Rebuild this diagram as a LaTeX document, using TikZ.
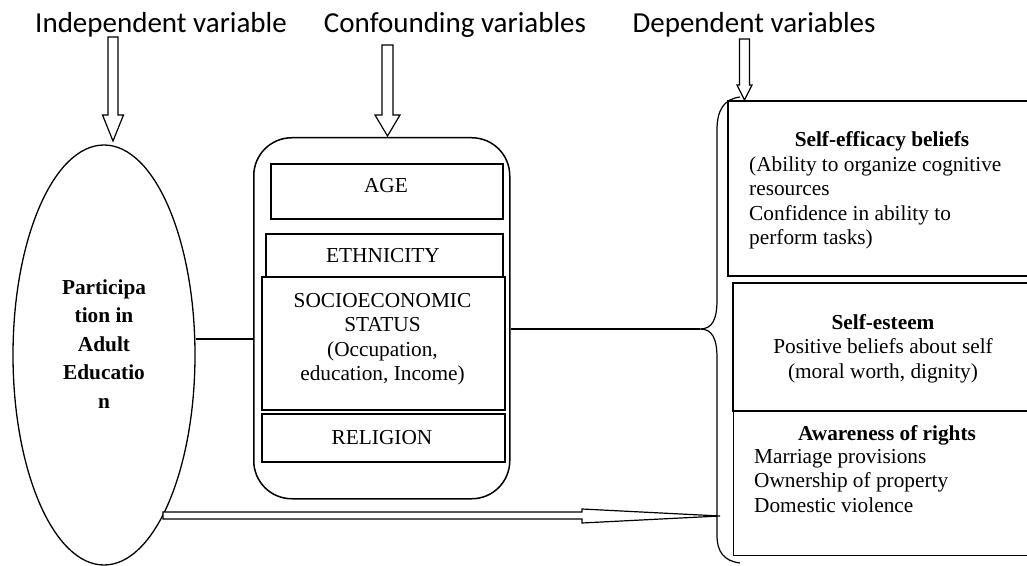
\documentclass[tikz,border=0pt]{standalone}
\usepackage{fontspec}
\setmainfont{Liberation Serif}
\newfontfamily\titlefont{Carlito}
\usetikzlibrary{shapes.geometric,calc}
\begin{document}
\begin{tikzpicture}[x=1bp,y=-1bp,
  ttl/.style={font=\titlefont\fontsize{29bp}{32bp}\selectfont, anchor=base, inner sep=0pt},
  lbl/.style={font=\fontsize{21.3bp}{24.5bp}\selectfont, anchor=base, inner sep=0pt},
  blbl/.style={font=\bfseries\fontsize{21.3bp}{24.5bp}\selectfont, anchor=base, inner sep=0pt},
  mlbl/.style={font=\fontsize{21.3bp}{24.5bp}\selectfont, anchor=north, inner sep=0pt, align=center},
  llbl/.style={font=\fontsize{21.3bp}{24.5bp}\selectfont, anchor=north west, inner sep=0pt, align=left},
  ibox/.style={draw, line width=2bp, inner sep=0pt, anchor=north west},
  hollow/.style={draw, line width=1.2bp, fill=white, line join=miter},
  conn/.style={draw, line width=1.3bp}
]
\useasboundingbox (0,0) rectangle (1027,566);
\clip (0,0) rectangle (1027,566);

% titles
\node[ttl] (iv) at (161,33) {Independent variable};
\node[ttl] (cv) at (455,33) {Confounding variables};
\node[ttl] (dv) at (754,33) {Dependent variables};

% independent variable ellipse
\node[draw, ellipse, line width=1.3bp, minimum width=182bp, minimum height=420bp, inner sep=0pt] (pae) at (104,355) {};
\node[font=\bfseries\fontsize{21.3bp}{28.5bp}\selectfont, align=center, anchor=north, inner sep=0pt] (paet) at (104,274.05)
  {\strut Participa\\tion in\\Adult\\Educatio\\n};

% confounding variables container
\node[draw, rounded corners=38bp, line width=1.5bp, minimum width=256bp, minimum height=361bp, anchor=north west, inner sep=0pt] (conf) at (253,137) {};
\node[ibox, minimum width=232bp, minimum height=55bp] (age) at (270,163) {};
\node[lbl] (ageT) at (386,193) {AGE};
\node[ibox, minimum width=237bp, minimum height=43bp] (eth) at (265,233) {};
\node[lbl] (ethT) at (383,263) {ETHNICITY};
\node[ibox, minimum width=243bp, minimum height=133bp] (ses) at (261,276) {};
\node[mlbl] (sesT) at (382.5,289.85) {\strut SOCIOECONOMIC\\STATUS\\(Occupation,\\education, Income)};
\node[ibox, minimum width=243bp, minimum height=48bp] (rel) at (261,413) {};
\node[lbl] (relT) at (382,444) {RELIGION};

% dependent variable boxes
\node[ibox, line width=2.2bp, minimum width=320bp, minimum height=175bp] (sef) at (727,100) {};
\node[blbl] (sefT) at (882,147) {Self-efficacy beliefs};
\node[llbl] (sefB) at (749,153.85) {\strut(Ability to organize cognitive\\resources\\Confidence in ability to\\perform tasks)};

\node[ibox, line width=2.2bp, minimum width=320bp, minimum height=128bp] (sest) at (732,282) {};
\node[mlbl] (sestT) at (883,311.85) {\strut\textbf{Self-esteem}\\Positive beliefs about self\\(moral worth, dignity)};

\node[ibox, line width=1.2bp, minimum width=320bp, minimum height=145bp] (awr) at (733,410) {};
\node[blbl] (awrT) at (887,440) {Awareness of rights};
\node[llbl] (awrB) at (754,445.85) {\strut Marriage provisions\\Ownership of property\\Domestic violence};

% brace
\coordinate (bt) at (740,97);
\coordinate (bb) at (740,563);
\coordinate (tip) at (700,329);
\draw[line width=1.2bp] (bt) .. controls (724,99) and (717,110) .. (717,130) -- (717,300)
  .. controls (717,320) and (712,329) .. (tip)
  .. controls (712,329) and (717,338) .. (717,358) -- (717,535)
  .. controls (717,552) and (724,561) .. (bb);

% connectors
\coordinate (l1) at (0,339);
\draw[conn] (pae.east |- l1) -- (conf.west |- l1);
\draw[conn] (conf.east |- tip) -- (tip);

% hollow arrows from titles
\draw[hollow] (108,37) -- (108,115) -- (102.5,115) -- (113,141) -- (123.5,115) -- (118,115) -- (118,37) -- cycle;
\draw[hollow] (382,45) -- (382,115) -- (375,115) -- (387.5,136) -- (400,115) -- (393,115) -- (393,45) -- cycle;
\draw[hollow] (739.5,39) -- (739.5,85) -- (737,85) -- (744.5,100) -- (752,85) -- (749.5,85) -- (749.5,39) -- cycle;

% long arrow from ellipse to dependent variables
\draw[hollow] (163,512) -- (582,512) -- (582,509) -- (720,516) -- (582,523) -- (582,519) -- (163,519) -- cycle;
\end{tikzpicture}
\end{document}
